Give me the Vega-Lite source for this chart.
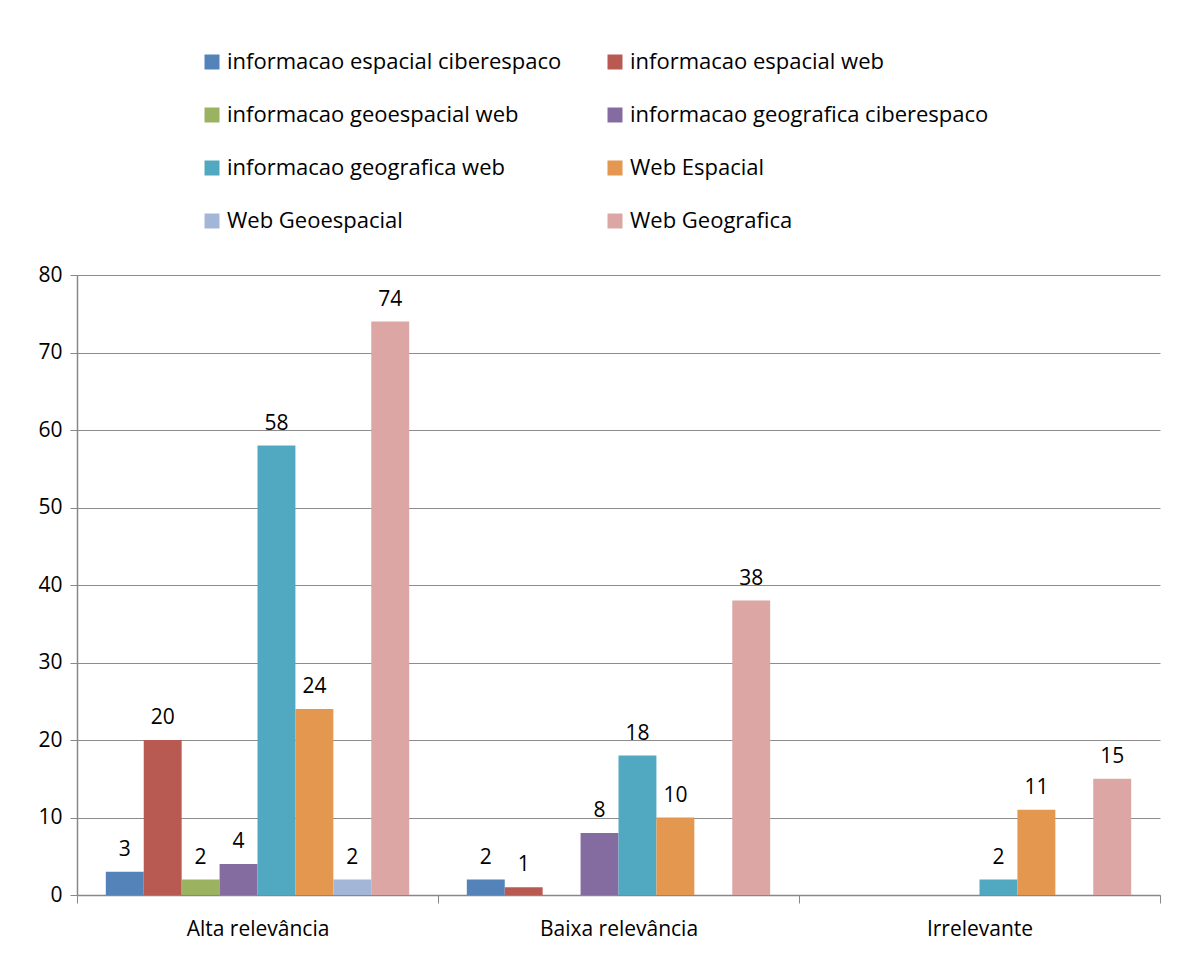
{
  "$schema": "https://vega.github.io/schema/vega-lite/v6.json",
  "autosize": {"type": "none"},
  "width": 1083,
  "height": 620,
  "padding": {"left": 77, "top": 275, "right": 32, "bottom": 61},
  "background": "white",
  "config": {
    "font": "Open Sans",
    "view": {"stroke": null},
    "axis": {"labelFont": "Open Sans", "labelFontSize": 21, "labelColor": "#000000", "domainColor": "#888888", "tickColor": "#888888", "gridColor": "#8c8c8c", "title": null}
  },
  "data": {
    "values": [
      {"cat": "Alta relevância", "serie": "informacao espacial ciberespaco", "v": 3},
      {"cat": "Alta relevância", "serie": "informacao espacial web", "v": 20},
      {"cat": "Alta relevância", "serie": "informacao geoespacial web", "v": 2},
      {"cat": "Alta relevância", "serie": "informacao geografica ciberespaco", "v": 4},
      {"cat": "Alta relevância", "serie": "informacao geografica web", "v": 58},
      {"cat": "Alta relevância", "serie": "Web Espacial", "v": 24},
      {"cat": "Alta relevância", "serie": "Web Geoespacial", "v": 2},
      {"cat": "Alta relevância", "serie": "Web Geografica", "v": 74},
      {"cat": "Baixa relevância", "serie": "informacao espacial ciberespaco", "v": 2},
      {"cat": "Baixa relevância", "serie": "informacao espacial web", "v": 1},
      {"cat": "Baixa relevância", "serie": "informacao geografica ciberespaco", "v": 8},
      {"cat": "Baixa relevância", "serie": "informacao geografica web", "v": 18},
      {"cat": "Baixa relevância", "serie": "Web Espacial", "v": 10},
      {"cat": "Baixa relevância", "serie": "Web Geografica", "v": 38},
      {"cat": "Irrelevante", "serie": "informacao geografica web", "v": 2},
      {"cat": "Irrelevante", "serie": "Web Espacial", "v": 11},
      {"cat": "Irrelevante", "serie": "Web Geografica", "v": 15}
    ]
  },
  "encoding": {
    "x": {
      "field": "cat", "type": "nominal", "sort": null,
      "scale": {"paddingInner": 0, "paddingOuter": 0},
      "axis": {"labelAngle": 0, "tickBand": "extent", "tickSize": 8, "labelPadding": 15, "grid": false, "domainWidth": 1.5}
    },
    "xOffset": {
      "field": "serie", "type": "nominal",
      "scale": {"domain": ["informacao espacial ciberespaco", "informacao espacial web", "informacao geoespacial web", "informacao geografica ciberespaco", "informacao geografica web", "Web Espacial", "Web Geoespacial", "Web Geografica"], "paddingInner": 0, "paddingOuter": 0.76}
    },
    "y": {
      "field": "v", "type": "quantitative",
      "scale": {"domain": [0, 80]},
      "axis": {"values": [0, 10, 20, 30, 40, 50, 60, 70, 80], "tickSize": 7, "labelPadding": 8, "grid": true, "domainWidth": 1.5, "gridWidth": 1}
    }
  },
  "layer": [
    {
      "mark": {"type": "bar"},
      "encoding": {
        "color": {
          "field": "serie", "type": "nominal",
          "scale": {
            "domain": ["informacao espacial ciberespaco", "informacao espacial web", "informacao geoespacial web", "informacao geografica ciberespaco", "informacao geografica web", "Web Espacial", "Web Geoespacial", "Web Geografica"],
            "range": ["#5383B8", "#B95A52", "#9BB260", "#846CA0", "#50A9C0", "#E3974F", "#A3B6D8", "#DBA6A3"]
          },
          "legend": {
            "orient": "none", "legendX": 124, "legendY": -224, "direction": "horizontal", "columns": 2,
            "title": null, "symbolType": "square", "symbolSize": 225, "symbolStrokeWidth": 0,
            "labelFont": "Open Sans", "labelFontSize": 22, "labelColor": "#000000", "labelLimit": 500,
            "rowPadding": 31, "columnPadding": 42, "labelOffset": 4
          }
        }
      }
    },
    {
      "mark": {"type": "text", "baseline": "bottom", "dy": -12, "fontSize": 21, "font": "Open Sans", "color": "#000000"},
      "encoding": {"text": {"field": "v", "type": "quantitative"}}
    }
  ]
}
